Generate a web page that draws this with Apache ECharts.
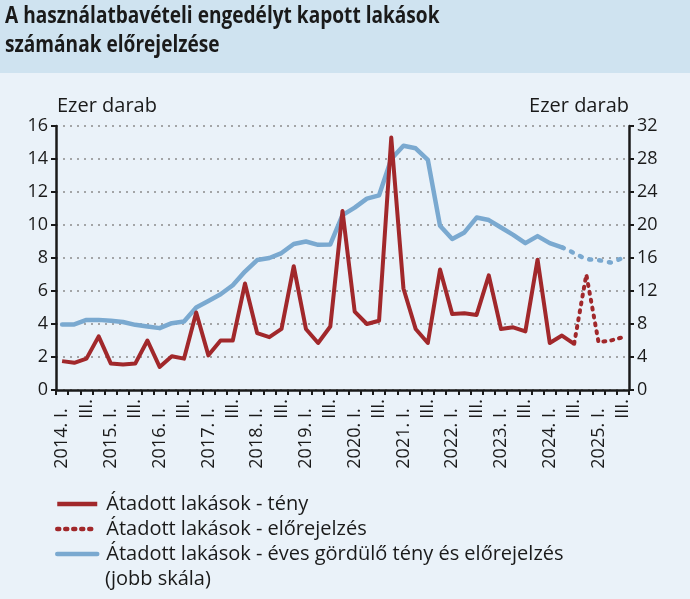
<!DOCTYPE html>
<html>
<head>
<meta charset="utf-8">
<script src="https://cdn.jsdelivr.net/npm/echarts@6/dist/echarts.min.js"></script>
<style>
html,body{margin:0;padding:0;background:#eaf2f9;}
#chart{width:690px;height:599px;}
</style>
</head>
<body>
<div id="chart"></div>
<script>
const categories = [
 "2014. I.","II.","III.","IV.",
 "2015. I.","II.","III.","IV.",
 "2016. I.","II.","III.","IV.",
 "2017. I.","II.","III.","IV.",
 "2018. I.","II.","III.","IV.",
 "2019. I.","II.","III.","IV.",
 "2020. I.","II.","III.","IV.",
 "2021. I.","II.","III.","IV.",
 "2022. I.","II.","III.","IV.",
 "2023. I.","II.","III.","IV.",
 "2024. I.","II.","III.","IV.",
 "2025. I.","II.","III."
];
// Átadott lakások - tény (ezer darab, bal skála)
const tenyValues = [
 1.75,1.65,1.9,3.25, 1.6,1.55,1.6,3.0, 1.4,2.05,1.9,4.7, 2.1,3.0,3.0,6.45,
 3.45,3.2,3.7,7.5, 3.7,2.85,3.85,10.85, 4.75,4.0,4.2,15.3, 6.15,3.7,2.85,7.3,
 4.6,4.65,4.55,6.95, 3.7,3.8,3.55,7.9, 2.85,3.3,2.8,null, null,null,null
];
// Átadott lakások - előrejelzés
const elorejelzesValues = [
 null,null,null,null, null,null,null,null, null,null,null,null, null,null,null,null,
 null,null,null,null, null,null,null,null, null,null,null,null, null,null,null,null,
 null,null,null,null, null,null,null,null, null,null,2.8,7.0, 2.9,3.0,3.2
];
// Éves gördülő tény (jobb skála)
const gordTenyValues = [
 7.95,7.95,8.5,8.5, 8.4,8.25,7.9,7.7, 7.5,8.1,8.3,10.0, 10.8,11.6,12.7,14.35,
 15.75,16.0,16.6,17.7, 18.0,17.6,17.65,21.2, 22.1,23.2,23.6,28.0, 29.6,29.3,27.9,19.9,
 18.3,19.1,20.9,20.6, 19.7,18.8,17.8,18.65, 17.8,17.3,null,null, null,null,null
];
// Éves gördülő előrejelzés (jobb skála)
const gordElorejelzesValues = [
 null,null,null,null, null,null,null,null, null,null,null,null, null,null,null,null,
 null,null,null,null, null,null,null,null, null,null,null,null, null,null,null,null,
 null,null,null,null, null,null,null,null, null,17.3,16.6,15.85, 15.75,15.45,16.0
];
const leftTicks = {min:0, max:16, interval:2};
const rightTicks = {min:0, max:32, interval:4};
const seriesNames = [
 "Átadott lakások - tény",
 "Átadott lakások - előrejelzés",
 "Átadott lakások - éves gördülő tény és előrejelzés"
];

const FONT = "Open Sans";
const RED = "#a1282b";
const BLUE = "#7aa9d0";
const INK = "#1a1a1a";
const chart = echarts.init(document.getElementById('chart'));
chart.setOption({
  backgroundColor: '#eaf2f9',
  animation: false,
  textStyle: {fontFamily: FONT},
  graphic: [
    {type:'rect', left:0, top:0, shape:{width:690, height:73}, style:{fill:'#cfe3f0'}, z:-1},
    {type:'text', x:5, y:2, scaleX:0.83, originX:0, style:{text:'A használatbavételi engedélyt kapott lakások\nszámának előrejelzése', font:'bold 23px "Open Sans"', fill:INK, lineHeight:29}},
    {type:'text', left:57, top:96, style:{text:'Ezer darab', font:'20px "Open Sans"', fill:INK}},
    {type:'text', right:61, top:96, style:{text:'Ezer darab', font:'20px "Open Sans"', fill:INK}},
    {type:'text', left:105, top:569, style:{text:'(jobb skála)', font:'20px "Open Sans"', fill:INK}}
  ],
  grid: {left:56, right:61, top:126, bottom:209, containLabel:false},
  legend: {
    orient:'vertical', left:55, top:494, padding:0, itemWidth:40, itemHeight:10, itemGap:5,
    data: seriesNames,
    itemStyle:{opacity:0},
    lineStyle:{width:4.5},
    textStyle:{fontSize:20, color:INK, fontFamily:FONT, padding:[0,0,0,4]},
    selectedMode:false
  },
  xAxis: {
    type:'category', data:categories, boundaryGap:true,
    axisLine:{lineStyle:{color:INK, width:2.5}},
    axisTick:{show:true, interval:0, length:5, lineStyle:{color:INK, width:2}},
    axisLabel:{interval:1, rotate:90, fontSize:18, color:INK, margin:9, fontFamily:FONT,
      formatter: function (v) { return v.length > 4 ? v + '  ' : v; }}
  },
  yAxis: [
    {type:'value', min:leftTicks.min, max:leftTicks.max, interval:leftTicks.interval, position:'left',
     axisLine:{show:true, lineStyle:{color:INK, width:2.5}},
     axisTick:{show:true, length:5, lineStyle:{color:INK, width:2}},
     axisLabel:{fontSize:18, color:INK, margin:8, fontFamily:FONT},
     splitLine:{show:true, lineStyle:{color:'#8c8c8c', type:[2,5], width:1.5}}},
    {type:'value', min:rightTicks.min, max:rightTicks.max, interval:rightTicks.interval, position:'right',
     axisLine:{show:true, lineStyle:{color:INK, width:2.5}},
     axisTick:{show:true, length:5, lineStyle:{color:INK, width:2}},
     axisLabel:{fontSize:18, color:INK, margin:8, fontFamily:FONT},
     splitLine:{show:false}}
  ],
  series: [
    {name:seriesNames[2], type:'line', yAxisIndex:1, data:gordTenyValues, showSymbol:false, symbol:'none',
     lineStyle:{color:BLUE, width:4.5, cap:'round', join:'round'}, itemStyle:{color:BLUE}, z:2},
    {name:seriesNames[2], type:'line', yAxisIndex:1, data:gordElorejelzesValues, showSymbol:false, symbol:'none',
     lineStyle:{color:BLUE, width:4.5, type:[2,8], cap:'round', join:'round'}, itemStyle:{color:BLUE}, z:2},
    {name:seriesNames[0], type:'line', yAxisIndex:0, data:tenyValues, showSymbol:false, symbol:'none',
     lineStyle:{color:RED, width:4, join:'round'}, itemStyle:{color:RED}, z:3},
    {name:seriesNames[1], type:'line', yAxisIndex:0, data:elorejelzesValues, showSymbol:false, symbol:'none',
     lineStyle:{color:RED, width:4, type:[2,6], cap:'round', join:'round'}, itemStyle:{color:RED}, z:3}
  ]
});
</script>
</body>
</html>
